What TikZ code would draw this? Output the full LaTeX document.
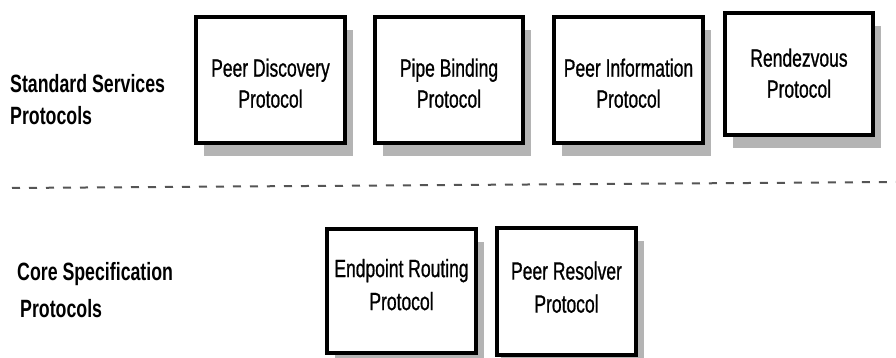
\documentclass[tikz,border=0pt]{standalone}
\usepackage{fontspec}
\setmainfont{Liberation Sans}
\newfontfamily\narrowfont[FakeStretch=0.70, FakeBold=0.8]{Liberation Sans}
\newfontfamily\narrowbold[FakeStretch=0.71]{Liberation Sans Bold}
\usetikzlibrary{shadows}
\definecolor{shadowgray}{RGB}{180,180,180}
\definecolor{dashgray}{RGB}{85,85,85}
% two centred lines, moved up by #1 without changing their footprint, line distance #2
\newcommand\twoline[4]{\raisebox{#1}[\height][\depth]{\fontsize{25}{#2}\selectfont
  \begin{tabular}{@{}c@{}}#3\\#4\end{tabular}}}
\tikzset{
  protobox/.style={draw=black, line width=4pt, fill=white, inner sep=0pt,
    font=\narrowfont,
    drop shadow={shadow xshift=8pt, shadow yshift=-13pt, fill=shadowgray, opacity=1}},
  layerlabel/.style={anchor=base west, inner sep=0pt,
    font=\narrowbold\fontsize{25}{30}\selectfont},
  separator/.style={draw=dashgray, line width=2pt, dash pattern=on 8pt off 9pt}
}
\begin{document}
\begin{tikzpicture}[x=1pt, y=-1pt]
  \useasboundingbox (0,0) rectangle (896,358);

  % layer labels
  \node[layerlabel] (std1) at (10,93) {Standard Services};
  \node[layerlabel] (std2) at (10,125) {Protocols};
  \node[layerlabel] (core1) at (17,280) {Core Specification};
  \node[layerlabel] (core2) at (20,317) {Protocols};

  % separator between the two layers
  \coordinate (sepL) at (12,188);
  \coordinate (sepR) at (896,182);
  \draw[separator] (sepL) -- (sepR);

  % standard services
  \node[protobox, minimum width=149pt, minimum height=126pt] (pdp) at (270.5,80)
    {\twoline{-6pt}{31}{Peer Discovery}{Protocol}};
  \node[protobox, minimum width=148pt, minimum height=126pt] (pbp) at (449,80)
    {\twoline{-6pt}{31}{Pipe Binding}{Protocol}};
  \node[protobox, minimum width=149pt, minimum height=126pt] (pip) at (628.5,80)
    {\twoline{-6pt}{31}{Peer Information}{Protocol}};
  \node[protobox, minimum width=148pt, minimum height=122pt] (rvp) at (799,74)
    {\twoline{-2pt}{31}{Rendezvous}{Protocol}};

  % core specification
  \node[protobox, minimum width=149pt, minimum height=124pt] (erp) at (401.5,291)
    {\twoline{4pt}{33}{Endpoint Routing}{Protocol}};
  \node[protobox, minimum width=139pt, minimum height=127pt,
    drop shadow={shadow xshift=4pt, shadow yshift=-13pt, fill=shadowgray, opacity=1}] (prp) at (566.5,291.5)
    {\twoline{2pt}{33}{Peer Resolver}{Protocol}};
\end{tikzpicture}
\end{document}
